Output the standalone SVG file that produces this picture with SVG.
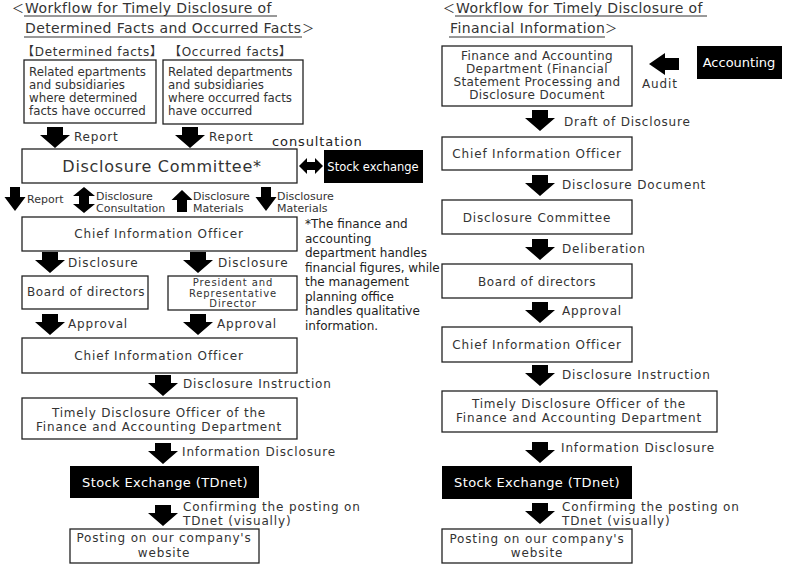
<svg xmlns="http://www.w3.org/2000/svg" xmlns:xlink="http://www.w3.org/1999/xlink" width="790" height="568" viewBox="0 0 790 568">
<style>
text{font-family:"DejaVu Sans","Noto Sans CJK JP",sans-serif;fill:#333;font-size:12px;letter-spacing:0.85px}
.c{text-anchor:middle}
.w{fill:#fff}
.s{font-size:11px;letter-spacing:0}
.title{font-size:14px;letter-spacing:0.4px;fill:#333}
.lt{font-size:12px;letter-spacing:0;fill:#333}
.note{font-size:12px;letter-spacing:0;fill:#222}
.box{fill:#fff;stroke:#222;stroke-width:1.3}
.blk{fill:#000}
.arr{fill:#000}
.ul{stroke:#333;stroke-width:1}
</style>
<defs>
<path id="dn" d="M-8,0 H8 V8 H15 L0,21 L-15,8 H-8 Z"/>
<path id="dns" d="M-5,0 H5 V10 H10.5 L0,24 L-10.5,10 H-5 Z"/>
</defs>
<rect width="790" height="568" fill="#fff"/>

<g id="titles">
<text class="lt" x="12" y="13">＜</text>
<text class="title" x="25" y="13">Workflow for Timely Disclosure of</text>
<line class="ul" x1="24" y1="16" x2="277" y2="16"/>
<text class="title" x="25" y="33">Determined Facts and Occurred Facts</text>
<text class="lt" x="302" y="33">＞</text>
<line class="ul" x1="24" y1="37" x2="302" y2="37"/>
<text class="lt" x="443" y="13">＜</text>
<text class="title" x="456" y="13">Workflow for Timely Disclosure of</text>
<line class="ul" x1="455" y1="16" x2="707" y2="16"/>
<text class="title" x="450" y="33">Financial Information</text>
<text class="lt" x="605" y="33">＞</text>
<line class="ul" x1="449" y1="37" x2="605" y2="37"/>
</g>

<g id="headings">
<text x="22" y="56" style="letter-spacing:0.7px">【Determined facts】</text>
<text x="169" y="56" style="letter-spacing:0.7px">【Occurred facts】</text>
</g>

<g id="connectors">
<use href="#dn" x="55" y="127" class="arr"/>
<text x="74" y="141" style="letter-spacing:0.8px">Report</text>
<use href="#dn" x="190" y="127" class="arr"/>
<text x="209" y="141" style="letter-spacing:0.8px">Report</text>
<text x="272" y="146" style="font-size:13px;letter-spacing:0.9px;fill:#222">consultation</text>
<path class="arr" d="M299,166 L307,158 V162 H315 V158 L323,166 L315,174 V170 H307 V174 Z"/>

<use href="#dns" x="15" y="187" class="arr"/>
<text class="s" x="27" y="203">Report</text>
<path class="arr" d="M84,187 L95,196 H89 V204 H95 L84,213 L73,204 H79 V196 H73 Z"/>
<text class="s" x="96" y="200">Disclosure</text>
<text class="s" x="96" y="212">Consultation</text>
<path class="arr" d="M182,190 L192.5,200 H187 V212 H177 V200 H171.5 Z"/>
<text class="s" x="193" y="200">Disclosure</text>
<text class="s" x="193" y="212">Materials</text>
<use href="#dns" x="266" y="187" class="arr"/>
<text class="s" x="277" y="200">Disclosure</text>
<text class="s" x="277" y="212">Materials</text>

<use href="#dn" x="50" y="252" class="arr"/>
<text x="68" y="267">Disclosure</text>
<use href="#dn" x="198" y="252" class="arr"/>
<text x="218" y="267">Disclosure</text>

<use href="#dn" x="50" y="314" class="arr"/>
<text x="68" y="328">Approval</text>
<use href="#dn" x="198" y="314" class="arr"/>
<text x="217" y="328">Approval</text>

<use href="#dn" x="163" y="375" class="arr"/>
<text x="183" y="388">Disclosure Instruction</text>
<use href="#dn" x="163" y="443" class="arr"/>
<text x="182" y="456">Information Disclosure</text>
<use href="#dn" x="163" y="505" class="arr"/>
<text x="183" y="511">Confirming the posting on</text>
<text x="183" y="525">TDnet (visually)</text>

<path class="arr" d="M649,64 L665,53 V58 H679 V70 H665 V75 Z"/>
<text x="642" y="88">Audit</text>
<use href="#dn" x="540" y="110" class="arr"/>
<text x="564" y="126" style="letter-spacing:0.8px">Draft of Disclosure</text>
<use href="#dn" x="540" y="175" class="arr"/>
<text x="562" y="189">Disclosure Document</text>
<use href="#dn" x="540" y="239" class="arr"/>
<text x="562" y="253">Deliberation</text>
<use href="#dn" x="540" y="302" class="arr"/>
<text x="562" y="315">Approval</text>
<use href="#dn" x="540" y="365" class="arr"/>
<text x="562" y="379">Disclosure Instruction</text>
<use href="#dn" x="540" y="442" class="arr"/>
<text x="561" y="452">Information Disclosure</text>
<use href="#dn" x="540" y="503" class="arr"/>
<text x="562" y="511">Confirming the posting on</text>
<text x="562" y="525">TDnet (visually)</text>
</g>

<g id="determined-dept">
<rect class="box" x="24" y="60" width="132" height="63"/>
<text x="29" y="76" style="letter-spacing:0;font-size:11.8px">Related epartments</text>
<text x="29" y="89" style="letter-spacing:0;font-size:11.8px">and subsidiaries</text>
<text x="29" y="102" style="letter-spacing:0;font-size:11.8px">where determined</text>
<text x="29" y="115" style="letter-spacing:0;font-size:11.8px">facts have occurred</text>
</g>
<g id="occurred-dept">
<rect class="box" x="163" y="60" width="140" height="64"/>
<text x="168" y="76" style="letter-spacing:0;font-size:11.8px">Related departments</text>
<text x="168" y="89" style="letter-spacing:0;font-size:11.8px">and subsidiaries</text>
<text x="168" y="102" style="letter-spacing:0;font-size:11.8px">where occurred facts</text>
<text x="168" y="115" style="letter-spacing:0;font-size:11.8px">have occurred</text>
</g>
<g id="disclosure-committee">
<rect class="box" x="22" y="149" width="275" height="34"/>
<text class="c" x="162" y="172" style="font-size:16px;letter-spacing:0.7px">Disclosure Committee*</text>
</g>
<g id="stock-exchange">
<rect class="blk" x="324" y="150" width="99" height="33"/>
<text class="c w" x="373" y="171" style="font-size:11.5px;letter-spacing:0">Stock exchange</text>
</g>
<g id="cio-1">
<rect class="box" x="22" y="217" width="275" height="34"/>
<text class="c" x="159" y="238">Chief Information Officer</text>
</g>
<g id="footnote">
<text class="note" x="305" y="228">*The finance and</text>
<text class="note" x="305" y="243">accounting</text>
<text class="note" x="305" y="257">department handles</text>
<text class="note" x="305" y="272">financial figures, while</text>
<text class="note" x="305" y="286">the management</text>
<text class="note" x="305" y="301">planning office</text>
<text class="note" x="305" y="315">handles qualitative</text>
<text class="note" x="305" y="330">information.</text>
</g>
<g id="board-left">
<rect class="box" x="22" y="276" width="126" height="33"/>
<text class="c" x="86" y="296" style="letter-spacing:0.6px">Board of directors</text>
</g>
<g id="president">
<rect class="box" x="168" y="276" width="129" height="34"/>
<text class="c" x="233" y="286" style="font-size:10px;letter-spacing:0.9px">President and</text>
<text class="c" x="233" y="296.5" style="font-size:10px;letter-spacing:0.9px">Representative</text>
<text class="c" x="233" y="307" style="font-size:10px;letter-spacing:0.9px">Director</text>
</g>
<g id="cio-2">
<rect class="box" x="22" y="338" width="275" height="35"/>
<text class="c" x="159" y="360">Chief Information Officer</text>
</g>
<g id="timely-officer-left">
<rect class="box" x="22" y="398" width="275" height="41"/>
<text class="c" x="159" y="417" style="letter-spacing:0.8px">Timely Disclosure Officer of the</text>
<text class="c" x="159" y="431" style="letter-spacing:0.8px">Finance and Accounting Department</text>
</g>
<g id="tdnet-left">
<rect class="blk" x="70" y="466" width="189" height="32"/>
<text class="c w" x="165" y="487" style="font-size:13px;letter-spacing:0.4px">Stock Exchange (TDnet)</text>
</g>
<g id="website-left">
<rect class="box" x="70" y="529" width="189" height="34"/>
<text class="c" x="164" y="542">Posting on our company's</text>
<text class="c" x="164" y="557">website</text>
</g>

<g id="finance-dept">
<rect class="box" x="442" y="46" width="190" height="60"/>
<text class="c" x="537" y="60" style="letter-spacing:0.4px">Finance and Accounting</text>
<text class="c" x="537" y="73" style="letter-spacing:0.4px">Department (Financial</text>
<text class="c" x="537" y="86" style="letter-spacing:0.4px">Statement Processing and</text>
<text class="c" x="537" y="99" style="letter-spacing:0.4px">Disclosure Document</text>
</g>
<g id="accounting">
<rect class="blk" x="697" y="46" width="85" height="33"/>
<text class="c w" x="739" y="67" style="font-size:13px;letter-spacing:0">Accounting</text>
</g>
<g id="cio-r1">
<rect class="box" x="442" y="137" width="190" height="33"/>
<text class="c" x="537" y="158">Chief Information Officer</text>
</g>
<g id="committee-r">
<rect class="box" x="442" y="200" width="190" height="34"/>
<text class="c" x="537" y="222" style="letter-spacing:0.8px">Disclosure Committee</text>
</g>
<g id="board-r">
<rect class="box" x="442" y="264" width="190" height="34"/>
<text class="c" x="537" y="286" style="letter-spacing:0.6px">Board of directors</text>
</g>
<g id="cio-r2">
<rect class="box" x="442" y="327" width="190" height="35"/>
<text class="c" x="537" y="349">Chief Information Officer</text>
</g>
<g id="timely-officer-r">
<rect class="box" x="442" y="391" width="275" height="41"/>
<text class="c" x="579" y="408" style="letter-spacing:0.8px">Timely Disclosure Officer of the</text>
<text class="c" x="579" y="422" style="letter-spacing:0.8px">Finance and Accounting Department</text>
</g>
<g id="tdnet-r">
<rect class="blk" x="442" y="466" width="190" height="33"/>
<text class="c w" x="537" y="487" style="font-size:13px;letter-spacing:0.4px">Stock Exchange (TDnet)</text>
</g>
<g id="website-r">
<rect class="box" x="442" y="529" width="190" height="34"/>
<text class="c" x="537" y="543">Posting on our company's</text>
<text class="c" x="537" y="557">website</text>
</g>
</svg>
